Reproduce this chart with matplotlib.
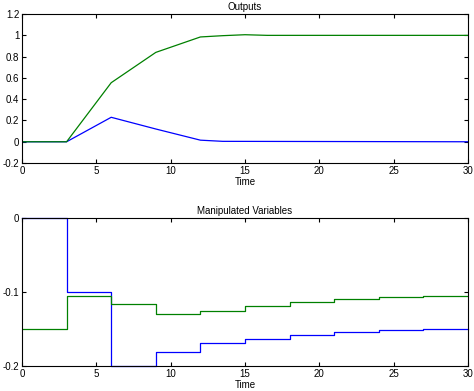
import matplotlib
matplotlib.use("Agg")
import matplotlib.pyplot as plt
from matplotlib.ticker import FuncFormatter

# Outputs (piecewise linear responses)
t_out1 = [0, 3, 6, 9, 12, 13.5, 30]
y_out1 = [0, 0, 0.23, 0.12, 0.015, 0.004, 0.0]
t_out2 = [0, 3, 6, 9, 12, 13.5, 15, 16.5, 30]
y_out2 = [0, 0, 0.555, 0.84, 0.985, 0.997, 1.006, 1.0, 1.0]

# Manipulated variables (held over each 3 s sample)
t_mv = [0, 3, 6, 9, 12, 15, 18, 21, 24, 27, 30]
u1 = [0.0, -0.1, -0.2, -0.181, -0.1685, -0.1636, -0.158, -0.154, -0.1514, -0.15, -0.15]
u2 = [-0.15, -0.1054, -0.1162, -0.1297, -0.1257, -0.119, -0.1131, -0.1095, -0.1068, -0.105, -0.105]

plt.rcParams["axes.unicode_minus"] = False
plt.rcParams["font.family"] = ["Liberation Sans", "DejaVu Sans"]
plt.rcParams["font.size"] = 7

fmt = FuncFormatter(lambda v, p: "%g" % round(v, 6))


def style(ax):
    ax.tick_params(direction="in", top=True, right=True, length=3, width=0.8, pad=2)
    for s in ax.spines.values():
        s.set_linewidth(0.8)
    ax.xaxis.set_major_formatter(fmt)
    ax.yaxis.set_major_formatter(fmt)


def main():
    fig = plt.figure(figsize=(4.74, 3.91), dpi=100)

    ax1 = fig.add_axes([0.0464, 0.583, 0.941, 0.381])
    ax1.plot(t_out1, y_out1, color="#0000ff", lw=0.9)
    ax1.plot(t_out2, y_out2, color="#008000", lw=0.9)
    ax1.set_xlim(0, 30)
    ax1.set_ylim(-0.2, 1.2)
    ax1.set_xticks(range(0, 31, 5))
    ax1.set_yticks([-0.2, 0, 0.2, 0.4, 0.6, 0.8, 1.0, 1.2])
    ax1.set_title("Outputs", fontsize=7, pad=3)
    ax1.set_xlabel("Time", labelpad=1)
    style(ax1)

    ax2 = fig.add_axes([0.0464, 0.0639, 0.941, 0.3785])
    ax2.step(t_mv, u1, where="post", color="#0000ff", lw=0.9, clip_on=False)
    ax2.step(t_mv, u2, where="post", color="#008000", lw=0.9)
    ax2.set_xlim(0, 30)
    ax2.set_ylim(-0.2, 0)
    ax2.set_xticks(range(0, 31, 5))
    ax2.set_yticks([-0.2, -0.1, 0])
    ax2.set_title("Manipulated Variables", fontsize=7, pad=3)
    ax2.set_xlabel("Time", labelpad=1)
    style(ax2)

    fig.savefig("out.png", dpi=100)


if __name__ == "__main__":
    main()
